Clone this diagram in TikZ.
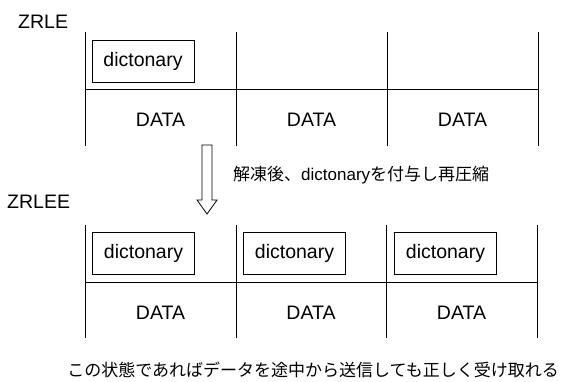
\documentclass[tikz,border=0pt]{standalone}
\usepackage{fontspec}
\setmainfont{Liberation Sans}
\newfontfamily\jpfont{Noto Sans CJK JP}
\usetikzlibrary{positioning}

\begin{document}
\begin{tikzpicture}[x=1pt, y=-1pt,
		every node/.style={inner sep=0pt, font=\fontsize{19.5}{22}\selectfont},
		dict/.style={draw, line width=0.8pt, minimum width=102pt, minimum height=42pt},
		grid/.style={line width=0.8pt},
		note/.style={font=\fontsize{17}{20}\selectfont}
		]
		\useasboundingbox (0,0) rectangle (561,381);

		% before
		\node[anchor=west] (zrle) at (18,22) {ZRLE};
		\draw[grid] (85,32) -- (85,146);
		\draw[grid] (236,32) -- (236,146);
		\draw[grid] (387,32) -- (387,146);
		\draw[grid] (538,32) -- (538,146);
		\draw[grid] (85,89) -- (538,89);
		\node[dict] (topdict) at (143,61) {dictonary};
		\node (topdata1) at (160.5,120) {DATA};
		\node (topdata2) at (311.5,120) {DATA};
		\node (topdata3) at (462.5,120) {DATA};

		% arrow
		\draw[grid] (202,145) -- (212,145) -- (212,200) -- (217,200) -- (207,214) -- (197,200) -- (202,200) -- cycle;
		\node[note, anchor=west] (step) at (233,175) {{\jpfont 解凍後、}dictonary{\jpfont を付与し再圧縮}};

		% after
		\node[anchor=west] (zrlee) at (7,202) {ZRLEE};
		\draw[grid] (85,225) -- (85,338);
		\draw[grid] (236,225) -- (236,338);
		\draw[grid] (386,225) -- (386,338);
		\draw[grid] (537,225) -- (537,338);
		\draw[grid] (85,282) -- (537,282);
		\node[dict] (dict1) at (143.5,253) {dictonary};
		\node[dict] (dict2) at (294.5,253) {dictonary};
		\node[dict] (dict3) at (445.5,253) {dictonary};
		\node (data1) at (160.5,313) {DATA};
		\node (data2) at (311,313) {DATA};
		\node (data3) at (461.5,313) {DATA};

		\node[note, anchor=east] (result) at (559,370) {\jpfont この状態であればデータを途中から送信しても正しく受け取れる};
	\end{tikzpicture}
\end{document}
